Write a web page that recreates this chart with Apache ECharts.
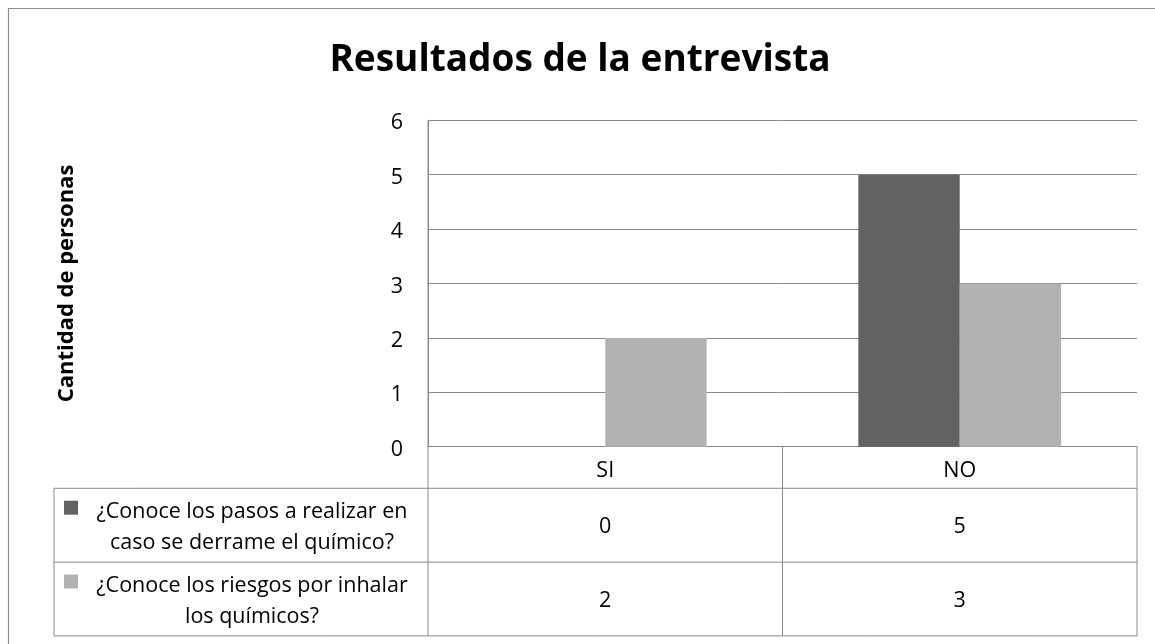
<!DOCTYPE html>
<html>
<head>
<meta charset="utf-8">
<script src="https://cdn.jsdelivr.net/npm/echarts@6/dist/echarts.min.js"></script>
<style>
  html, body { margin: 0; padding: 0; background: #fff; }
  #main { width: 1155px; height: 644px; }
</style>
</head>
<body>
<div id="main"></div>
<script>
// Interview results: two questions, answers counted as SI / NO
const categories = ['SI', 'NO'];
const seriesNames = [
  '¿Conoce los pasos a realizar en caso se derrame el químico?',
  '¿Conoce los riesgos por inhalar los químicos?'
];
const rowLabels = [
  '¿Conoce los pasos a realizar en\ncaso se derrame el químico?',
  '¿Conoce los riesgos por inhalar\nlos químicos?'
];
const pasosValues = [0, 5];
const riesgosValues = [2, 3];
const seriesValues = [pasosValues, riesgosValues];
const seriesColors = ['#626262', '#b2b2b2'];

const FONT = 'Open Sans';
const BODY = 21.5;
const LINE = '#898989';

const chart = echarts.init(document.getElementById('main'));

chart.setOption({
  backgroundColor: '#ffffff',
  animation: false,
  title: {
    text: 'Resultados de la entrevista',
    left: 575,
    top: 37,
    textAlign: 'center',
    textStyle: { fontFamily: FONT, fontWeight: 'bold', fontSize: 37, color: '#000' }
  },
  grid: { left: 428, right: 18, top: 120.3, bottom: 197.3 },
  xAxis: {
    type: 'category',
    data: categories,
    axisLine: { lineStyle: { color: LINE, width: 1 } },
    axisTick: { show: false },
    axisLabel: { margin: 13, fontFamily: FONT, fontSize: BODY, color: '#000' }
  },
  yAxis: {
    type: 'value',
    min: 0,
    max: 6,
    interval: 1,
    name: 'Cantidad de personas',
    nameLocation: 'middle',
    nameGap: 350,
    nameTextStyle: { fontFamily: FONT, fontWeight: 'bold', fontSize: 22, color: '#000' },
    axisLine: { show: true, lineStyle: { color: LINE, width: 1 } },
    axisTick: { show: false },
    splitLine: { lineStyle: { color: LINE, width: 1 } },
    axisLabel: {
      margin: 25,
      formatter: '{v|{value}}',
      rich: { v: { fontFamily: FONT, fontSize: BODY, color: '#000', padding: [6, 0, 0, 0] } }
    }
  },
  series: seriesNames.map((name, i) => ({
    name: name,
    type: 'bar',
    data: seriesValues[i],
    barGap: '0%',
    barCategoryGap: '42.8%',
    itemStyle: { color: seriesColors[i] }
  }))
});

// Data table under the plot, laid out on the category axis
function drawTable() {
  const c0 = chart.convertToPixel({ xAxisIndex: 0 }, categories[0]);
  const c1 = chart.convertToPixel({ xAxisIndex: 0 }, categories[1]);
  const step = c1 - c0;
  const bounds = [c0 - step / 2];
  categories.forEach((_, i) => bounds.push(c0 + step * (i + 0.5)));
  const axisY = chart.convertToPixel({ yAxisIndex: 0 }, 0);
  const topY = chart.convertToPixel({ yAxisIndex: 0 }, 6);

  const headerH = 41.6;
  const rowH = 73.8;
  const legendLeft = 54;
  const rowTops = [axisY + headerH, axisY + headerH + rowH];
  const tableBottom = axisY + headerH + 2 * rowH;
  const left = bounds[0];
  const right = bounds[bounds.length - 1];

  const lineStyle = { stroke: LINE, lineWidth: 1 };
  const els = [];

  // outer chart frame
  els.push({ type: 'rect', shape: { x: 8.5, y: 8.5, width: 1200, height: 700 },
    style: { fill: null, stroke: '#8c8c8c', lineWidth: 1.2 }, silent: true });

  // horizontal rules
  [rowTops[0], rowTops[1], tableBottom].forEach(y => {
    els.push({ type: 'line', shape: { x1: legendLeft, y1: y, x2: right, y2: y }, style: lineStyle });
  });
  // vertical rules
  els.push({ type: 'line', shape: { x1: legendLeft, y1: rowTops[0], x2: legendLeft, y2: tableBottom }, style: lineStyle });
  els.push({ type: 'line', shape: { x1: left, y1: topY, x2: left, y2: tableBottom }, style: lineStyle });
  bounds.slice(1).forEach(x => {
    els.push({ type: 'line', shape: { x1: x, y1: axisY, x2: x, y2: tableBottom }, style: lineStyle });
  });

  // row labels with legend keys, and values
  seriesValues.forEach((vals, r) => {
    const cy = rowTops[r] + rowH / 2;
    els.push({ type: 'rect', shape: { x: 64, y: cy - 24.5, width: 14, height: 14 },
      style: { fill: seriesColors[r] } });
    els.push({ type: 'text', x: 252, y: cy + 2.5,
      style: { text: rowLabels[r], align: 'center', verticalAlign: 'middle',
        fontFamily: FONT, fontSize: BODY, lineHeight: 31, fill: '#000' } });
    vals.forEach((v, i) => {
      els.push({ type: 'text', x: chart.convertToPixel({ xAxisIndex: 0 }, categories[i]), y: cy + 2,
        style: { text: String(v), align: 'center', verticalAlign: 'middle',
          fontFamily: FONT, fontSize: BODY, fill: '#000' } });
    });
  });

  chart.setOption({ graphic: els });
}
drawTable();
</script>
</body>
</html>
